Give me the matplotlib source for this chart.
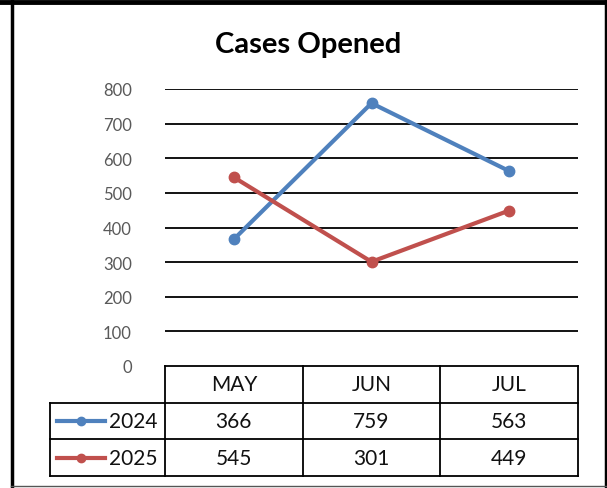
import matplotlib
matplotlib.use("Agg")
import matplotlib.pyplot as plt  # noqa: E402

months = ["MAY", "JUN", "JUL"]
series_names = ["2024", "2025"]
cases_2024 = [366, 759, 563]
cases_2025 = [545, 301, 449]
yticks = [0, 100, 200, 300, 400, 500, 600, 700, 800]

BLUE, RED = "#4F81BD", "#C0504D"
plt.rcParams["font.family"] = ["Lato", "DejaVu Sans"]

W, H = 607, 489
fig = plt.figure(figsize=(W / 100, H / 100), dpi=100)


def px_axes(x0, y0, x1, y1):
    # pixel box (top-left origin) -> figure axes
    return fig.add_axes([x0 / W, 1 - y1 / H, (x1 - x0) / W, (y1 - y0) / H])


# ── line chart ──
ax = px_axes(165, 90, 578, 367)
x = range(len(months))
for vals, col in [(cases_2024, BLUE), (cases_2025, RED)]:
    ax.plot(x, vals, color=col, lw=3, marker="o", ms=7.5, zorder=3)
ax.set_xlim(-0.5, 2.5); ax.set_ylim(0, 800)
ax.set_yticks(yticks)
ax.set_yticklabels([str(t) for t in yticks], fontsize=12, color="#595959")
ax.tick_params(axis="y", length=0, pad=24)
ax.set_xticks([])
for t in yticks[1:]:
    ax.axhline(t, color="black", lw=1.3, zorder=1)
for s in ax.spines.values():
    s.set_visible(False)
fig.text(308 / W, 1 - 45 / H, "Cases Opened", fontsize=21, fontweight="bold",
         ha="center", va="center")

# ── data table under the chart ──
unit = (578 - 165) / 3
tx0 = -0.5 - (165 - 50) / unit
at = px_axes(50, 367, 578, 477)
at.set_xlim(tx0, 2.5); at.set_ylim(0, 3)
at.axis("off")
lk = dict(color="black", lw=1.3, clip_on=False)
at.plot([-0.5, 2.5], [3, 3], **lk)
at.plot([tx0, 2.5], [2, 2], **lk)
at.plot([tx0, 2.5], [1, 1], **lk)
at.plot([tx0, 2.5], [0, 0], **lk)
at.plot([tx0, tx0], [0, 2], **lk)
for b in [-0.5, 0.5, 1.5, 2.5]:
    at.plot([b, b], [0, 3], **lk)
tk = dict(va="center", fontsize=15, color="#111111")
for i, m in enumerate(months):
    at.text(i, 2.5, m, ha="center", **tk)
rows = [(series_names[0], cases_2024, BLUE), (series_names[1], cases_2025, RED)]
for r, (name, vals, col) in enumerate(rows):
    yc = 1.5 - r
    lx0 = tx0 + 7 / unit; lx1 = tx0 + 55 / unit
    at.plot([lx0, (lx0 + lx1) / 2, lx1], [yc, yc, yc], color=col, lw=3,
            marker="o", ms=6, markevery=[1], clip_on=False)
    at.text(tx0 + 59 / unit, yc, name, ha="left", **tk)
    for i, v in enumerate(vals):
        at.text(i, yc, str(v), ha="center", **tk)

# ── outer frame ──
fig.add_artist(plt.Line2D([11.5 / W, 11.5 / W], [0, 1], color="black", lw=2.5))
fig.add_artist(plt.Line2D([605.5 / W, 605.5 / W], [0, 1], color="black", lw=2.5))
fig.add_artist(plt.Line2D([0, 1], [1 - 2.5 / H, 1 - 2.5 / H], color="black", lw=3.5))
fig.add_artist(plt.Line2D([11 / W, 606 / W], [1 - 487 / H, 1 - 487 / H], color="#555555", lw=1))

fig.savefig("out.png", dpi=100)
